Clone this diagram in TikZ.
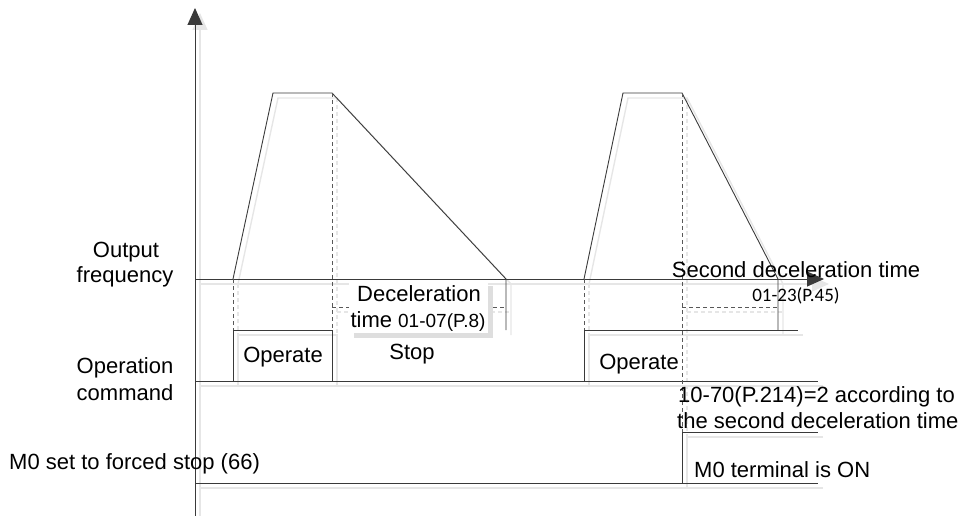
\documentclass[tikz,border=0pt]{standalone}
\usepackage{fontspec}
\setmainfont{Liberation Sans}
\newfontfamily\carlito{Carlito}
\usetikzlibrary{arrows.meta}
\definecolor{lnc}{HTML}{3A3A3A}
\definecolor{shc}{HTML}{E6E6E6}
\definecolor{boxsh}{HTML}{DEDEDE}
\newcommand\chartpaths{%
 \draw[ln,arr] (195,516) -- (195,8);
 \draw[ln,arr] (195,279) -- (824,279);
 \draw[ln] (195,381) -- (818,381);
 \draw[ln] (195,483) -- (818,483);
 \draw[ln] (233,279) -- (273,93) -- (332,93) -- (506,279) -- (506,330);
 \draw[dl] (233,279) -- (233,330);
 \draw[dl] (332,93) -- (332,330);
 \draw[dl] (332,307) -- (506,307);
 \draw[ln] (233,381) -- (233,330) -- (332,330) -- (332,381);
 \draw[ln] (584,279) -- (623,93) -- (682,93) -- (778,279) -- (778,330);
 \draw[dl] (584,279) -- (584,330);
 \draw[dl] (682,93) -- (682,432);
 \draw[dl] (682,307) -- (778,307);
 \draw[ln] (584,381) -- (584,330) -- (798,330);
 \draw[ln] (682,483) -- (682,432) -- (818,432);
}
\begin{document}
\begin{tikzpicture}[x=1pt,y=-1pt,
  ln/.style={draw=lnc,line width=0.9pt},
  dl/.style={draw=lnc!85,line width=0.9pt,dash pattern=on 4pt off 3pt},
  arr/.style={-{Triangle[length=17pt,width=15pt]}},
  txt/.style={inner sep=0pt,font=\fontsize{22}{27}\selectfont},
  small/.style={font=\fontsize{19}{22}\selectfont}]
\useasboundingbox (0,0) rectangle (963,516);
\begin{scope}[shift={(5,5)},
  ln/.style={draw=shc,line width=1.4pt},
  dl/.style={draw=shc,line width=1.4pt,dash pattern=on 4pt off 3pt}]
\chartpaths
\end{scope}
\chartpaths
\fill[boxsh] (354,286) rectangle (493,338);
\fill[white] (349,281) rectangle (488,333);
\node[txt,anchor=base] (of1) at (126,257) {Output};
\node[txt,anchor=base] (of2) at (125,282) {frequency};
\node[txt,anchor=base] (oc1) at (125,373) {Operation};
\node[txt,anchor=base] (oc2) at (125,400) {command};
\node[txt,anchor=base west] (m0s) at (9,469) {M0 set to forced stop (66)};
\node[txt,anchor=base] (op1) at (283,362) {Operate};
\node[txt,anchor=base] (stp) at (412,359) {Stop};
\node[txt,anchor=base] (dec1) at (419,301) {Deceleration};
\node[txt,anchor=base] (dec2) at (418,327) {time {\fontsize{19}{22}\selectfont 01-07(P.8)}};
\node[txt,anchor=base] (sdt) at (796,277) {Second deceleration time};
\node[txt,anchor=base,font=\carlito\fontsize{19}{22}\selectfont] (p45) at (796,301) {01-23(P.45)};
\node[txt,anchor=base] (op2) at (639,369) {Operate};
\node[txt,anchor=base west] (p214a) at (678,402) {10-70(P.214)=2 according to};
\node[txt,anchor=base west] (p214b) at (677,428) {the second deceleration time};
\node[txt,anchor=base west] (m0on) at (694,477) {M0 terminal is ON};
\end{tikzpicture}
\end{document}
